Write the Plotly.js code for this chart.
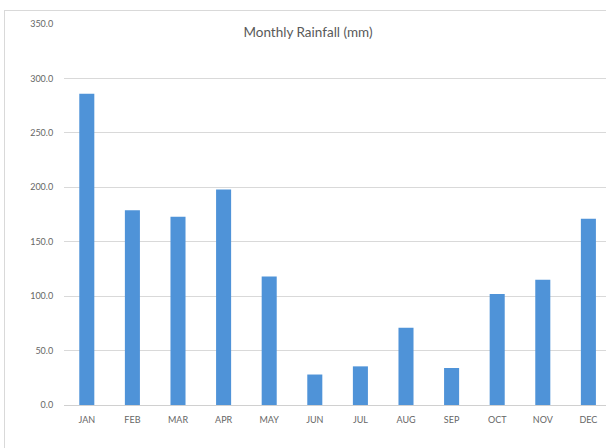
<!DOCTYPE html>
<html>
<head>
<meta charset="utf-8">
<script src="https://cdn.plot.ly/plotly-3.0.1.min.js"></script>
<style>
html,body{margin:0;padding:0;background:#fff;overflow:hidden;}
#chart{position:absolute;left:0;top:0;width:606px;height:448px;}
#frame{position:absolute;left:4px;top:10px;width:620px;height:460px;border-left:1px solid #d9d9d9;border-top:1px solid #d9d9d9;pointer-events:none;}
</style>
</head>
<body>
<div id="chart"></div>
<div id="frame"></div>
<script>
const months = ["JAN","FEB","MAR","APR","MAY","JUN","JUL","AUG","SEP","OCT","NOV","DEC"];
const rainfall = [286, 179, 173, 198, 118, 28, 35.5, 71, 34, 102, 115, 171];
const yTicks = [0, 50, 100, 150, 200, 250, 300, 350];

const trace = {
  type: 'bar',
  x: months,
  y: rainfall,
  marker: {color: '#4f93d8'},
  hoverinfo: 'x+y'
};

const tickFontFamily = '"Liberation Sans Narrow", Lato, "Open Sans", sans-serif';

const layout = {
  width: 606, height: 448,
  margin: {l: 64, r: 0, t: 24, b: 43},
  paper_bgcolor: '#ffffff',
  plot_bgcolor: '#ffffff',
  bargap: 0.67,
  showlegend: false,
  title: {
    text: 'Monthly Rainfall (mm)',
    font: {family: 'Lato, "Open Sans", sans-serif', size: 13.5, color: '#595959'},
    xref: 'container', yref: 'container',
    x: 308/606, y: 1 - 32/448, xanchor: 'center', yanchor: 'middle'
  },
  xaxis: {
    type: 'category',
    range: [-0.5, 11.386],
    showgrid: false,
    showline: false,
    zeroline: false,
    ticks: 'outside', ticklen: 6, tickcolor: 'rgba(0,0,0,0)',
    tickfont: {family: tickFontFamily, size: 9, color: '#666666'},
    fixedrange: true
  },
  yaxis: {
    range: [0, 350],
    tickvals: yTicks,
    tickformat: '.1f',
    showgrid: true,
    gridcolor: '#d9d9d9',
    gridwidth: 1,
    zeroline: true,
    zerolinecolor: '#d0d0d0',
    zerolinewidth: 1,
    showline: false,
    ticks: 'outside', ticklen: 8, tickcolor: 'rgba(0,0,0,0)',
    tickfont: {family: tickFontFamily, size: 9, color: '#666666'},
    fixedrange: true
  }
};

Plotly.newPlot('chart', [trace], layout, {displayModeBar: false, staticPlot: true});
</script>
</body>
</html>
